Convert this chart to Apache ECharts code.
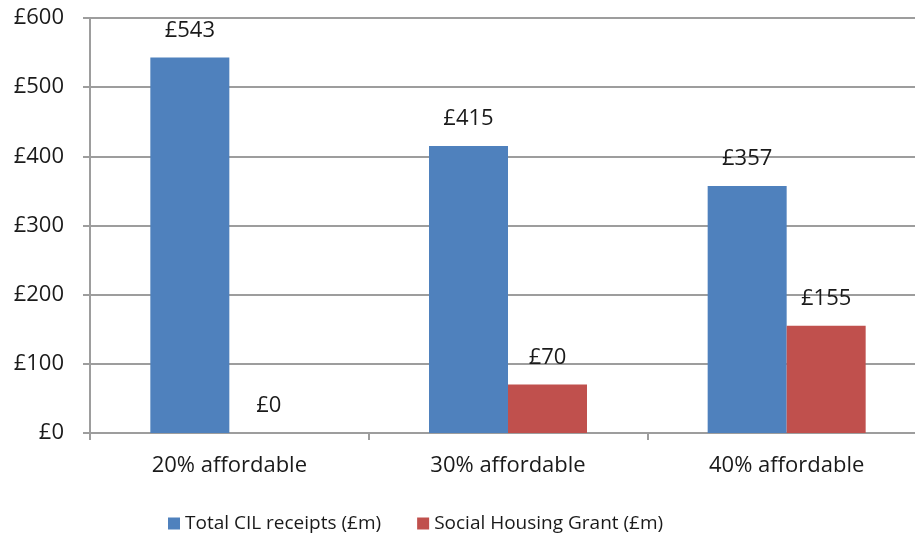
<!DOCTYPE html>
<html>
<head>
<meta charset="utf-8">
<script src="https://cdn.jsdelivr.net/npm/echarts@6/dist/echarts.min.js"></script>
<style>
  html, body { margin: 0; padding: 0; background: #fff; }
  #chart { width: 915px; height: 540px; }
</style>
</head>
<body>
<div id="chart"></div>
<script>
const categories = ["20% affordable", "30% affordable", "40% affordable"];
const cilReceipts = [543, 415, 357];
const housingGrant = [0, 70, 155];
const seriesNames = ["Total CIL receipts (£m)", "Social Housing Grant (£m)"];

const fontFamily = "'Open Sans', 'Noto Sans', sans-serif";
const textColor = "#1a1a1a";
const axisGray = "#9d9d9d";

const chart = echarts.init(document.getElementById("chart"));

const labelStyle = {
  show: true,
  position: "top",
  distance: 16,
  color: textColor,
  fontSize: 22,
  fontFamily: fontFamily,
  formatter: (p) => "£" + p.value,
};

chart.setOption({
  animation: false,
  backgroundColor: "#fff",
  // plot area runs past the right edge, as in the source image
  grid: { left: 90, width: 836, top: 18, height: 415, outerBoundsMode: "none" },
  legend: {
    top: 509,
    left: 163,
    itemWidth: 12,
    itemHeight: 12,
    itemGap: 36,
    icon: "rect",
    textStyle: { color: textColor, fontSize: 19, fontFamily: fontFamily },
    data: seriesNames,
  },
  xAxis: {
    type: "category",
    data: categories,
    axisLine: { lineStyle: { color: axisGray, width: 2 } },
    axisTick: { show: true, length: 7, alignWithLabel: false, lineStyle: { color: axisGray, width: 2 } },
    axisLabel: { color: textColor, fontSize: 22, fontFamily: fontFamily, margin: 22 },
  },
  yAxis: {
    type: "value",
    min: 0,
    max: 600,
    interval: 100,
    axisLine: { show: true, lineStyle: { color: axisGray, width: 2 } },
    axisTick: { show: true, length: 7, lineStyle: { color: axisGray, width: 2 } },
    axisLabel: { color: textColor, fontSize: 22, fontFamily: fontFamily, margin: 26, formatter: (v) => "£" + v },
    splitLine: { lineStyle: { color: axisGray, width: 2 } },
  },
  series: [
    {
      name: seriesNames[0],
      type: "bar",
      data: cilReceipts,
      barWidth: 79,
      barGap: "0%",
      itemStyle: { color: "#4F81BD" },
      label: labelStyle,
    },
    {
      name: seriesNames[1],
      type: "bar",
      data: housingGrant,
      barWidth: 79,
      barGap: "0%",
      itemStyle: { color: "#C0504D" },
      label: labelStyle,
    },
  ],
});
</script>
</body>
</html>
